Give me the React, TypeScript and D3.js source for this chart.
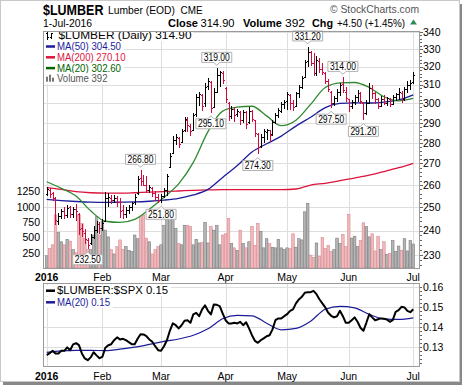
import React from "react";
import * as d3 from "d3";

const W = 464;
const H = 387;
const FONT = "'Liberation Sans', Arial, Helvetica, sans-serif";

// bar index of the first trading day of each month (Jan 4 .. Jul 1, 2016)
const monthIdx = [0, 19, 39, 61, 82, 103, 125];
const monthLabels = ["2016", "Feb", "Mar", "Apr", "May", "Jun", "Jul"];

// daily OHLC, Jan .. Jul 1
const opens = [
  255.5, 257.5, 256, 254, 244, 246, 248, 246.5, 250, 247, 249, 247, 241, 239, 236, 234.5, 237, 240, 242.5,
  241, 244, 254, 254, 253, 254, 252, 248.5, 247, 248.5, 250, 252, 256, 263, 261.5, 260, 257.5, 258.5, 256, 254.5,
  253, 255, 257.5, 268, 275, 281, 282, 280, 286, 291, 288, 286, 294, 303, 304, 300, 309, 311, 298, 306, 315, 316,
  308, 300, 293, 297, 294, 295, 291, 295, 290, 296, 291, 284, 278, 282.5, 285, 286, 284, 290, 293.5, 296, 299.5,
  301, 304, 300, 298.5, 305, 308.5, 314, 323, 328, 322, 316, 323, 318.5, 316, 312, 306, 300, 302.5, 306, 310, 306,
  302, 298.5, 300.5, 303, 305, 300, 294.5, 300, 308, 305, 302, 298.5, 302, 300, 302, 299.5, 303, 304.5, 305.5, 302, 307.5, 309.5,
  311,
];
const highs = [
  259, 258.5, 257, 254.5, 247.5, 249.5, 250, 251, 250.5, 250, 251.5, 247.5, 243, 240.5, 237, 238.5, 242, 244, 243.5,
  245, 257, 256.5, 255.5, 255.5, 255, 254, 251, 250, 251, 252.5, 256, 264, 266.8, 264.5, 264, 260, 259, 257.5, 256,
  256, 258.5, 265, 275, 283.5, 284.5, 283, 287, 293, 293, 289.5, 295, 305, 306, 305, 311, 313.5, 312, 308, 319, 317.5, 317.5,
  309, 300.5, 298.5, 298, 297, 296, 296.5, 296, 298, 296.5, 291.5, 285, 284.5, 287, 287, 286.5, 291.5, 295, 297.5, 301, 302,
  306, 305, 302, 306, 310, 315, 324, 331.2, 329, 327.5, 326, 325, 322, 317, 313, 306.5, 304, 307.5, 311, 314, 308.5,
  302.5, 302, 304.5, 307, 306, 301, 302, 311, 310, 306, 303, 304, 304.5, 303.5, 303, 304.5, 305.5, 308, 306.5, 309, 312, 312.5,
  317,
];
const lows = [
  255, 254, 253, 242.5, 242.5, 245, 245, 245.5, 245.5, 245.5, 244, 238, 237.5, 234.5, 232.5, 234, 236.5, 239, 238.5,
  240, 243.5, 250, 251.5, 252, 250, 245.5, 245, 245.5, 247, 248.5, 251, 255.5, 259.5, 259.5, 256.5, 256.5, 254.5, 253, 252,
  251.8, 254, 255, 268, 275, 279, 277.5, 280, 285.5, 285.5, 283.5, 286, 293, 298.5, 296, 298, 307, 295.1, 297.5, 305.5, 309, 310.5,
  300, 291, 292, 290.5, 293, 289, 290, 287, 289.5, 290.5, 283, 274.3, 277.5, 280, 281.5, 280.5, 283.5, 289.5, 292.5, 295, 297,
  296.5, 296.5, 296, 298, 303, 307.5, 313.5, 320, 320.5, 314.5, 315, 316.5, 315.5, 310.5, 306, 297.5, 298.5, 301, 304, 305.5, 301,
  295.5, 297, 299, 301, 299.5, 291.2, 294, 299.5, 302.5, 299.5, 297, 298, 299, 298.5, 298, 299, 301.5, 302, 300, 301.5, 305.5, 307,
  310.5,
];
const closes = [
  258, 255.5, 254, 244.5, 246, 248, 246.5, 249.5, 247, 249, 248, 240.5, 239.5, 236.5, 234, 237, 240, 242.5, 241,
  243, 254, 254.5, 253, 254, 252, 248, 247, 248.5, 250, 251.5, 254.5, 262.5, 261.5, 260, 257.5, 259, 256, 254.5, 253,
  255, 257.5, 264, 273.5, 281, 282.5, 279, 285.5, 291.5, 288.5, 285.5, 293.5, 303, 304.5, 298.5, 308.5, 312, 297.5, 306, 315, 316.5, 312.5,
  302, 293, 297, 293.5, 296, 291, 295, 289, 296, 291.5, 284.5, 277.5, 282.5, 285.5, 286, 283.5, 290, 293.5, 296.5, 299.5, 300.5,
  304.5, 300, 298, 305, 308.5, 313.5, 322.5, 328, 322, 316, 323.5, 318.5, 316.5, 312, 307.5, 300, 302.5, 306, 309.5, 307, 302.5,
  298.5, 300.5, 303, 305.5, 301, 294.5, 300, 308, 305, 302, 298.5, 302, 300, 302.5, 299.5, 303, 304.5, 306, 302, 307.5, 309.5, 310.4,
  314.9,
];
const volumes = [
  200, 320, 380, 870, 580, 430, 380, 470, 440, 300, 250, 870, 730, 480, 300, 300, 540, 840, 540,
  760, 620, 510, 300, 230, 350, 460, 300, 350, 290, 270, 540, 480, 840, 870, 490, 430, 230, 300, 350,
  380, 700, 920, 900, 790, 650, 400, 380, 700, 700, 680, 380, 470, 410, 420, 750, 410, 680, 620, 700, 380, 540,
  560, 810, 400, 330, 290, 620, 400, 330, 430, 680, 370, 730, 600, 330, 480, 400, 340, 330, 470, 330, 300,
  330, 320, 560, 340, 480, 460, 920, 1060, 210, 170, 410, 190, 500, 320, 370, 270, 300, 490, 400, 550, 350,
  880, 490, 520, 350, 450, 740, 680, 510, 560, 280, 520, 300, 430, 220, 240, 450, 270, 360, 290, 480, 280, 450,
  392,
];
// $LUMBER:$SPX ratio, daily
const ratio = [
  0.1258, 0.1268, 0.128, 0.1267, 0.1267, 0.128, 0.128, 0.1297, 0.1283, 0.1312, 0.1318, 0.1308, 0.1267, 0.1242, 0.1233, 0.1247, 0.1273, 0.1257, 0.1243,
  0.125, 0.1295, 0.1308, 0.1313, 0.1333, 0.1347, 0.1337, 0.134, 0.1333, 0.1323, 0.1313, 0.1313, 0.134, 0.1363, 0.1362, 0.1353, 0.1337, 0.1325, 0.1303, 0.1283,
  0.128, 0.1303, 0.1333, 0.138, 0.1417, 0.1408, 0.1392, 0.1408, 0.143, 0.1433, 0.142, 0.1462, 0.147, 0.1453, 0.1487, 0.1507, 0.148, 0.1462, 0.1512, 0.151, 0.1503, 0.1467,
  0.1433, 0.1417, 0.1417, 0.142, 0.1417, 0.1425, 0.1408, 0.1423, 0.1392, 0.1358, 0.133, 0.132, 0.1333, 0.1342, 0.1353, 0.1358, 0.1387, 0.1433, 0.1442, 0.1442, 0.1453,
  0.1463, 0.148, 0.1487, 0.1517, 0.1537, 0.155, 0.157, 0.1573, 0.1573, 0.158, 0.1563, 0.1538, 0.1517, 0.1497, 0.147, 0.1455, 0.1447, 0.1453, 0.148, 0.1453, 0.142,
  0.142, 0.1433, 0.1447, 0.1425, 0.1395, 0.138, 0.142, 0.1463, 0.1447, 0.1433, 0.1438, 0.1442, 0.144, 0.1437, 0.1425, 0.1433, 0.1475, 0.1483, 0.15, 0.1497, 0.148, 0.1473,
  0.1488,
];

// moving averages
const maIdx = [0, 5, 10, 15, 20, 25, 30, 35, 40, 45, 50, 55, 60, 65, 70, 75, 80, 85, 90, 95, 100, 105, 110, 115, 120, 125];
const ma20 = [261.5, 258.5, 255, 248.5, 244, 243.5, 244.8, 249.2, 254.5, 260.5, 270.5, 285.5, 296, 298, 298.5, 293.5, 288.5, 291.3, 299.5, 308.5, 311, 311.2, 308.5, 303.5, 301.3, 302.6];
const ma50 = [253.5, 253, 252.6, 252.3, 252.2, 252.3, 252.4, 252.7, 253.2, 254, 255.5, 258, 263.5, 269, 275.5, 279.5, 283.3, 288.3, 292.8, 297.8, 300, 300.3, 300.2, 300.7, 301.8, 304.5];
const ma200 = [258.8, 258, 257, 256.5, 256.3, 256.3, 256.5, 256.8, 257, 257.3, 257.6, 257.8, 257.9, 257.9, 257.9, 257.9, 257.9, 258.2, 260, 260.8, 262, 263.2, 264.5, 266.2, 268, 270.1];
const ratioMa20 = [0.1272, 0.128, 0.1282, 0.1282, 0.1281, 0.1288, 0.1298, 0.1312, 0.1327, 0.1339, 0.1358, 0.139, 0.144, 0.1457, 0.1455, 0.1418, 0.1385, 0.1392, 0.1428, 0.1488, 0.1502, 0.1495, 0.1462, 0.144, 0.1437, 0.1445];

const priceTicks = [230, 240, 250, 260, 270, 280, 290, 300, 310, 320, 330, 340];
const volumeTicks = [250, 500, 750, 1000, 1250];
const ratioTicks = [0.13, 0.14, 0.15, 0.16];

// labelled highs and lows
const calloutIdx = [14, 32, 39, 56, 58, 72, 89, 97, 101, 108];
const calloutVal = [232.5, 266.8, 251.8, 295.1, 319.0, 274.3, 331.2, 297.5, 314.0, 291.2];
const calloutLow = [true, false, true, true, false, true, false, true, false, true];

const L = 43;
const R = 420;
const T1 = 31;
const B1 = 268;
const T2 = 283;
const B2 = 366;

const DOWN = "#d4083a";
const NAVY = "#1c1c9a";
const CRIMSON = "#dc143c";
const GREEN = "#2f8a2f";
const GRID = "#dedede";
const FRAME = "#9a9a9a";

export default function App() {
  const x = d3.scaleLinear().domain([-1.26, 127.3]).range([L, R]);
  const yP = d3.scaleLog().domain([224.8, 340.6]).range([B1, T1]);
  const yV = d3.scaleLinear().domain([0, 1250]).range([B1, 191.7]);
  const yR = d3.scaleLinear().domain([0.1204, 0.1619]).range([B2, T2]);

  const isUp = closes.map((c, i) => (i === 0 ? c >= opens[0] : c >= closes[i - 1]));

  const maPath = (vals: number[], y: (v: number) => number) =>
    d3
      .line<number>()
      .x((_, k) => x(maIdx[k]))
      .y((v) => y(v))
      .curve(d3.curveMonotoneX)(vals) || "";

  const ratioPath =
    d3
      .line<number>()
      .x((_, i) => x(i))
      .y((v) => yR(v))(ratio) || "";

  const px = (i: number) => Math.round(x(i)) + 0.5;

  const priceMinor = d3.range(226, 341, 2);
  const ratioMinor = d3.range(0.122, 0.1615, 0.002);

  const legendRow = (cy: number, color: string, label: string, len: number, icon: "dash" | "vol" | "bar") => (
    <g key={label}>
      <rect x={44} y={cy - 5.5} width={len + 16} height={11} fill="#fff" />
      {icon === "dash" && <line x1={46} x2={55} y1={cy} y2={cy} stroke={color} strokeWidth={2.5} />}
      {icon === "vol" && (
        <g fill="#777">
          <rect x={46} y={cy - 2} width={2} height={5} />
          <rect x={49} y={cy - 4} width={2} height={7} />
          <rect x={52} y={cy - 1} width={2} height={4} />
        </g>
      )}
      {icon === "bar" && (
        <g stroke="#000" strokeWidth={1} shapeRendering="crispEdges">
          <line x1={47.5} x2={47.5} y1={cy - 4} y2={cy + 4} />
          <line x1={46} x2={47.5} y1={cy - 2.5} y2={cy - 2.5} />
          <line x1={47.5} x2={49} y1={cy + 2} y2={cy + 2} />
          <line x1={51.5} x2={51.5} y1={cy - 3} y2={cy + 3} />
          <line x1={50} x2={51.5} y1={cy + 1.5} y2={cy + 1.5} />
          <line x1={51.5} x2={53} y1={cy - 2} y2={cy - 2} />
        </g>
      )}
      <text
        x={icon === "bar" ? 58.5 : 57}
        y={cy}
        dy="0.35em"
        fontSize={10}
        fill={color}
        textLength={len}
        lengthAdjust="spacingAndGlyphs"
      >
        {label}
      </text>
    </g>
  );

  return (
    <div style={{ position: "absolute", left: 0, top: 0 }}>
      <svg width={W} height={H} style={{ display: "block", fontFamily: FONT }}>
        <rect x={0} y={0} width={W} height={H} fill="#fff" />
        {/* outer frame with shadow */}
        <rect x={3} y={4} width={459} height={381} fill="#888" />
        <rect x={0.5} y={0.5} width={459} height={381} fill="#fff" stroke="#c8c8c8" />

        {/* header */}
        <text transform="translate(43,15) scale(1,1.15)" fontSize={12.5} fontWeight="bold">
          $LUMBER
        </text>
        <text x={108} y={13.5} fontSize={11} textLength={67} lengthAdjust="spacingAndGlyphs">
          Lumber (EOD)
        </text>
        <text x={180.5} y={13.5} fontSize={11} textLength={22} lengthAdjust="spacingAndGlyphs">
          CME
        </text>
        <text x={330} y={13} fontSize={11} fill="#555" textLength={89} lengthAdjust="spacingAndGlyphs">
          © StockCharts.com
        </text>
        <text x={43} y={27} fontSize={10.5} textLength={49} lengthAdjust="spacingAndGlyphs">
          1-Jul-2016
        </text>
        <text x={168} y={27} fontSize={11} fontWeight="bold" textLength={30} lengthAdjust="spacingAndGlyphs">
          Close
        </text>
        <text x={200.5} y={27} fontSize={11} textLength={34} lengthAdjust="spacingAndGlyphs">
          314.90
        </text>
        <text x={243} y={27} fontSize={11} fontWeight="bold" textLength={39} lengthAdjust="spacingAndGlyphs">
          Volume
        </text>
        <text x={285} y={27} fontSize={11} textLength={20} lengthAdjust="spacingAndGlyphs">
          392
        </text>
        <text x={312} y={27} fontSize={11} fontWeight="bold" textLength={21} lengthAdjust="spacingAndGlyphs">
          Chg
        </text>
        <text x={337} y={27} fontSize={10.5} textLength={68} lengthAdjust="spacingAndGlyphs">
          +4.50 (+1.45%)
        </text>
        <path d="M410,24.5 L413.5,19.5 L417,24.5 Z" fill="#2e8b57" />

        {/* main panel */}
        <rect x={L} y={T1} width={R - L} height={B1 - T1} fill="#fff" />
        <g stroke={GRID} strokeWidth={1} shapeRendering="crispEdges">
          {priceTicks.map((t) => (
            <line key={t} x1={L} x2={R} y1={Math.round(yP(t)) + 0.5} y2={Math.round(yP(t)) + 0.5} />
          ))}
          {monthIdx.map((m) => (
            <line key={m} x1={px(m)} x2={px(m)} y1={T1} y2={B1} />
          ))}
        </g>

        {/* volume */}
        <g strokeWidth={0.6}>
          {volumes.map((v, i) => (
            <rect
              key={i}
              x={x(i) - 1.3}
              y={yV(v)}
              width={2.6}
              height={B1 - yV(v)}
              fill={isUp[i] ? "#b4b4b4" : "#f0b9bc"}
              stroke={isUp[i] ? "#7d7d7d" : "#d98a92"}
            />
          ))}
        </g>

        {/* moving averages */}
        <path d={maPath(ma200, yP)} fill="none" stroke={CRIMSON} strokeWidth={1.3} />
        <path d={maPath(ma50, yP)} fill="none" stroke={NAVY} strokeWidth={1.3} />
        <path d={maPath(ma20, yP)} fill="none" stroke={GREEN} strokeWidth={1.3} />

        {/* OHLC bars */}
        <g strokeWidth={1} shapeRendering="crispEdges">
          {closes.map((c, i) => {
            const xi = px(i);
            return (
              <g key={i} stroke={isUp[i] ? "#000" : DOWN}>
                <line x1={xi} x2={xi} y1={yP(highs[i])} y2={yP(lows[i])} />
                <line x1={xi - 1.5} x2={xi} y1={yP(opens[i])} y2={yP(opens[i])} />
                <line x1={xi} x2={xi + 1.5} y1={yP(c)} y2={yP(c)} />
              </g>
            );
          })}
        </g>

        {/* high / low callouts */}
        {calloutIdx.map((ci, k) => {
          const cx = x(ci);
          const py = yP(calloutVal[k]);
          const w = 30;
          const h = 10;
          const left = cx - w / 2;
          const right = cx + w / 2;
          let d: string;
          let ty: number;
          if (calloutLow[k]) {
            const top = py + 6;
            d = `M${left},${top} H${cx - 3} L${cx},${top - 3} L${cx + 3},${top} H${right} V${top + h} H${left} Z`;
            ty = top + h / 2;
          } else {
            const bottom = py - 6;
            d = `M${left},${bottom - h} H${right} V${bottom} H${cx + 3} L${cx},${bottom + 3} L${cx - 3},${bottom} H${left} Z`;
            ty = bottom - h / 2;
          }
          return (
            <g key={ci}>
              <path d={d} fill="#fff" stroke="#b0b0b0" strokeWidth={1} />
              <text x={cx} y={ty} dy="0.36em" fontSize={10} textAnchor="middle" textLength={26} lengthAdjust="spacingAndGlyphs">
                {calloutVal[k].toFixed(2)}
              </text>
            </g>
          );
        })}

        {/* legend */}
        {legendRow(35.7, "#000", "$LUMBER (Daily) 314.90", 133, "bar")}
        {legendRow(46.5, NAVY, "MA(50) 304.50", 64, "dash")}
        {legendRow(57.3, CRIMSON, "MA(200) 270.10", 68.5, "dash")}
        {legendRow(68.1, "#006400", "MA(20) 302.60", 64, "dash")}
        {legendRow(78.7, "#555", "Volume 392", 50.5, "vol")}

        <rect x={L + 0.5} y={T1 + 0.5} width={R - L - 1} height={B1 - T1} fill="none" stroke={FRAME} shapeRendering="crispEdges" />

        {/* right price axis */}
        <g stroke="#666" shapeRendering="crispEdges">
          {priceMinor.map((t) => (
            <line key={t} x1={R} x2={R + (t % 10 === 0 ? 3 : 1.5)} y1={Math.round(yP(t)) + 0.5} y2={Math.round(yP(t)) + 0.5} />
          ))}
        </g>
        {priceTicks.map((t) => (
          <text key={t} x={423} y={yP(t)} dy="0.36em" fontSize={10.5}>
            {t}
          </text>
        ))}
        {/* left volume axis */}
        {volumeTicks.map((t) => (
          <text key={t} x={40} y={yV(t)} dy="0.36em" fontSize={10.5} textAnchor="end">
            {t}
          </text>
        ))}

        {/* x labels under main panel */}
        {monthIdx.map((m, k) => (
          <text key={m} x={x(m)} y={281} fontSize={10.5} textAnchor="middle" fontWeight={k === 0 ? "bold" : "normal"}>
            {monthLabels[k]}
          </text>
        ))}

        {/* ratio panel */}
        <rect x={L} y={T2} width={R - L} height={B2 - T2} fill="#fff" />
        <g stroke={GRID} strokeWidth={1} shapeRendering="crispEdges">
          {ratioTicks.map((t) => (
            <line key={t} x1={L} x2={R} y1={Math.round(yR(t)) + 0.5} y2={Math.round(yR(t)) + 0.5} />
          ))}
          {monthIdx.map((m) => (
            <line key={m} x1={px(m)} x2={px(m)} y1={T2} y2={B2} />
          ))}
        </g>
        <path d={maPath(ratioMa20, yR)} fill="none" stroke={NAVY} strokeWidth={1.2} />
        <path d={ratioPath} fill="none" stroke="#000" strokeWidth={2} strokeLinejoin="round" />

        {legendRow(290.7, "#000", "$LUMBER:$SPX 0.15", 111, "dash")}
        {legendRow(302.3, NAVY, "MA(20) 0.15", 53, "dash")}

        <rect x={L + 0.5} y={T2 + 0.5} width={R - L - 1} height={B2 - T2} fill="none" stroke={FRAME} shapeRendering="crispEdges" />
        <g stroke="#666" shapeRendering="crispEdges">
          {ratioMinor.map((t, k) => (
            <line key={k} x1={R} x2={R + 1.5} y1={Math.round(yR(t)) + 0.5} y2={Math.round(yR(t)) + 0.5} />
          ))}
        </g>
        {ratioTicks.map((t) => (
          <text key={t} x={423} y={yR(t)} dy="0.36em" fontSize={10.5}>
            {t.toFixed(2)}
          </text>
        ))}
        {monthIdx.map((m, k) => (
          <text key={m} x={x(m)} y={380} fontSize={10.5} textAnchor="middle" fontWeight={k === 0 ? "bold" : "normal"}>
            {monthLabels[k]}
          </text>
        ))}
      </svg>
    </div>
  );
}
